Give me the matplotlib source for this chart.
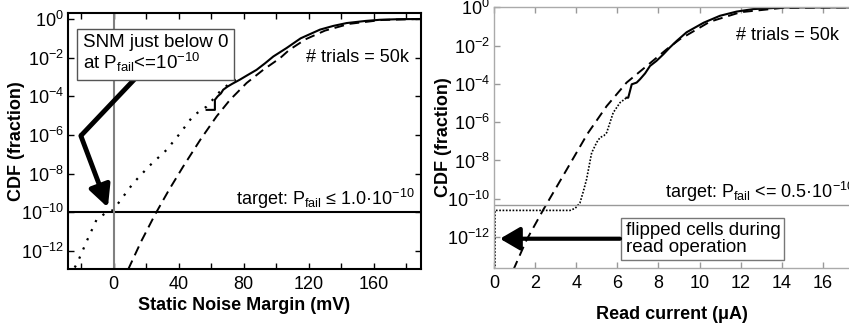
import numpy as np
import matplotlib.pyplot as plt
from matplotlib.ticker import FixedLocator, NullFormatter, LogFormatterSciNotation

plt.rcParams['font.family'] = ['Liberation Sans', 'DejaVu Sans']
plt.rcParams['mathtext.fontset'] = 'custom'
plt.rcParams['mathtext.rm'] = 'Liberation Sans'
plt.rcParams['mathtext.it'] = 'Liberation Sans'

# left panel: static noise margin (mV) vs log10(CDF)
snm_tail_x = [-27, -22.4, -16, -10.5, -5, -0.2, 12.1, 22, 32.6, 41, 49, 57.2, 65.4, 71.6, 78]
snm_tail_y = [-13.3, -12.64, -11.4, -10.39, -10.04, -9.88, -8.49, -7.6, -6.77, -5.9, -5.0, -4.53, -3.75, -3.31, -3.0]
snm_mc_x = [57.2, 62.3, 62.3, 64, 66, 67.4, 70, 73, 77.6, 82, 87.9, 93, 98.2, 106.4, 115, 126.9, 135, 143.3, 155, 163.8, 175, 189]
snm_mc_y = [-4.70, -4.70, -4.18, -4.0, -3.85, -3.66, -3.5, -3.35, -3.14, -2.92, -2.63, -2.3, -1.94, -1.5, -1.0, -0.55, -0.36, -0.21, -0.1, -0.04, -0.01, 0]
snm_fit_x = [9, 17, 25.4, 34, 42.8, 53.3, 63.3, 71.6, 81.8, 92, 102.4, 108, 118, 130, 145, 165, 189]
snm_fit_y = [-12.95, -11.5, -10.13, -8.85, -7.63, -6.25, -5.04, -4.18, -3.31, -2.63, -2.02, -1.6, -1.05, -0.6, -0.25, -0.05, 0]

# right panel: read current (uA) vs log10(CDF)
ird_tail_x = [0.05, 0.05, 3.7, 3.95, 4.18, 4.35, 4.5, 4.75, 5.0, 5.16, 5.35, 5.48, 5.8, 6.13, 6.45]
ird_tail_y = [-13.7, -10.61, -10.61, -10.5, -10.22, -9.6, -9.0, -7.6, -7.05, -6.8, -6.7, -6.55, -5.5, -4.98, -4.72]
ird_mc_x = [6.45, 6.53, 6.7, 6.94, 7.1, 7.35, 7.59, 7.9, 8.24, 8.55, 8.89, 9.37, 10.2, 10.99, 11.8, 12.6, 14.2, 17.3]
ird_mc_y = [-4.72, -4.72, -4.02, -3.93, -3.76, -3.45, -3.06, -2.8, -2.45, -2.1, -1.75, -1.3, -0.8, -0.44, -0.22, -0.09, 0, 0]
ird_fit_x = [0.94, 1.59, 2.4, 3.54, 4.55, 5.48, 6.45, 7.43, 8.4, 9.05, 10.5, 12, 14, 17.3]
ird_fit_y = [-13.72, -12.14, -10.57, -8.47, -6.6, -5.16, -3.93, -3.06, -2.19, -1.66, -0.75, -0.25, -0.03, 0]

decade_ticks = [1e-12, 1e-10, 1e-8, 1e-6, 1e-4, 1e-2, 1e0]

W, H = 849, 326
fig = plt.figure(figsize=(W / 100, H / 100), dpi=100)
fig.patch.set_facecolor('white')

# ---------------- left panel
ax1 = fig.add_axes([68 / W, 1 - 269 / H, (421 - 68) / W, (269 - 13) / H])
ax1.plot(snm_tail_x, 10.0 ** np.array(snm_tail_y), ls=(0, (1, 3.5)), color='black', lw=1.6)
ax1.plot(snm_fit_x, 10.0 ** np.array(snm_fit_y), ls=(0, (5, 3)), color='black', lw=1.4)
ax1.plot(snm_mc_x, 10.0 ** np.array(snm_mc_y), color='black', lw=1.5)
ax1.axhline(1e-10, color='black', lw=1.5)
ax1.axvline(0, color='#808080', lw=1.5)
ax1.set_yscale('log')
ax1.set_xlim(-28, 189)
ax1.set_ylim(10 ** -12.93, 10 ** 0.31)
ax1.xaxis.set_major_locator(FixedLocator([0, 40, 80, 120, 160]))
ax1.xaxis.set_minor_locator(FixedLocator([-20, 20, 60, 100, 140, 180]))
ax1.xaxis.set_minor_formatter(NullFormatter())
ax1.yaxis.set_major_locator(FixedLocator(decade_ticks))
ax1.yaxis.set_minor_locator(FixedLocator([]))
ax1.yaxis.set_major_formatter(LogFormatterSciNotation())
ax1.tick_params(which='both', direction='in', top=True, right=True, length=4, width=1, labelsize=13, pad=5)
ax1.tick_params(axis='y', pad=3)
for s in ax1.spines.values():
    s.set_linewidth(1.5)
ax1.set_xlabel('Static Noise Margin (mV)', fontsize=13, fontweight='bold', labelpad=3)
ax1.set_ylabel('CDF (fraction)', fontsize=13, fontweight='bold')
ax1.yaxis.set_label_coords(-0.122, 0.5)

ax1.text(-18.9, 10 ** -0.78, 'SNM just below 0\nat P$_{\\mathrm{fail}}$<=10$^{-10}$', fontsize=13.5,
         va='top', ha='left', linespacing=1.0,
         bbox=dict(boxstyle='square,pad=0.3', fc='white', ec='#555555', lw=1))
ax1.plot([14.3, -20.1], [10 ** -2.99, 10 ** -6.04], color='black', lw=3.5, solid_capstyle='butt')
ax1.annotate('', xy=(-3.5, 10 ** -9.75), xytext=(-20.1, 10 ** -6.04),
             arrowprops=dict(arrowstyle='-|>,head_length=1.3,head_width=0.65', color='black', lw=3.5,
                             shrinkA=0, shrinkB=0))
ax1.text(150, 10 ** -2.0, '# trials = 50k', fontsize=13, ha='center', va='center')
ax1.text(75.5, 10 ** -9.62, 'target: P$_{\\mathrm{fail}}$ \u2264 1.0\u00b710$^{-10}$', fontsize=13,
         ha='left', va='baseline')

# ---------------- right panel
ax2 = fig.add_axes([494 / W, 1 - 268 / H, (W - 494) / W, (268 - 7) / H])
ax2.plot(ird_tail_x, 10.0 ** np.array(ird_tail_y), ls=(0, (1, 1)), color='black', lw=1.2)
ax2.plot(ird_fit_x, 10.0 ** np.array(ird_fit_y), ls=(0, (5, 3)), color='black', lw=1.4)
ax2.plot(ird_mc_x, 10.0 ** np.array(ird_mc_y), color='black', lw=1.5)
ax2.axhline(10 ** -10.35, color='#999999', lw=1)
ax2.set_yscale('log')
ax2.set_xlim(0, 17.27)
ax2.set_ylim(10 ** -13.62, 10 ** 0.02)
ax2.xaxis.set_major_locator(FixedLocator(np.arange(0, 17, 2)))
ax2.yaxis.set_major_locator(FixedLocator(decade_ticks))
ax2.yaxis.set_minor_locator(FixedLocator([]))
ax2.yaxis.set_major_formatter(LogFormatterSciNotation())
ax2.tick_params(which='both', direction='in', top=True, right=False, length=4, width=1,
                color='#999999', labelsize=13, pad=5)
ax2.tick_params(axis='y', pad=3)
for s in ax2.spines.values():
    s.set_color('#aaaaaa')
    s.set_linewidth(1)
ax2.spines['right'].set_visible(False)
ax2.set_xlabel('Read current (\u03bcA)', fontsize=13, fontweight='bold', labelpad=10)
ax2.set_ylabel('CDF (fraction)', fontsize=13, fontweight='bold')
ax2.yaxis.set_label_coords(-0.118, 0.5)

ax2.text(6.4, 10 ** -11.2, 'flipped cells during\nread operation', fontsize=13.5, va='top', ha='left',
         linespacing=1.0, bbox=dict(boxstyle='square,pad=0.22', fc='white', ec='#777777', lw=1))
ax2.annotate('', xy=(0.29, 10 ** -12.09), xytext=(6.13, 10 ** -12.09),
             arrowprops=dict(arrowstyle='-|>,head_length=1.2,head_width=0.7', color='black', lw=3,
                             shrinkA=0, shrinkB=0))
ax2.text(14.3, 10 ** -1.45, '# trials = 50k', fontsize=13, ha='center', va='center')
ax2.text(8.3, 10 ** -9.96, 'target: P$_{\\mathrm{fail}}$ <= 0.5\u00b710$^{-10}$', fontsize=13,
         ha='left', va='baseline', clip_on=False)

fig.savefig('out.png', dpi=100)
